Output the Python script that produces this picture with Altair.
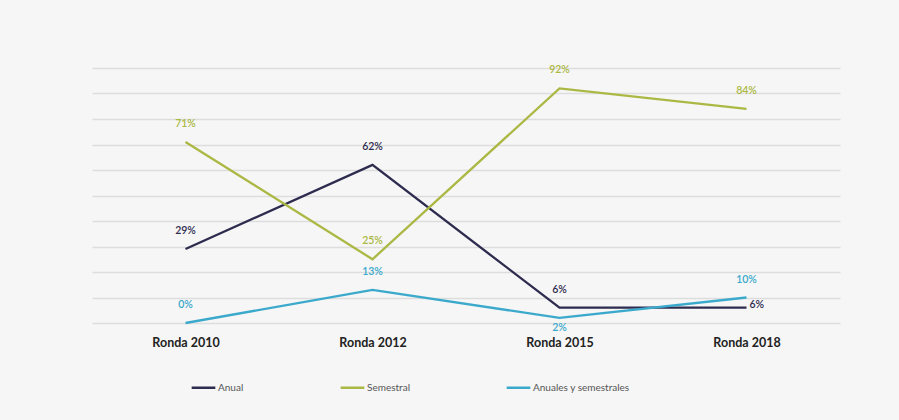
import altair as alt
import pandas as pd

rondas = ["Ronda 2010", "Ronda 2012", "Ronda 2015", "Ronda 2018"]
series = ["Anual", "Semestral", "Anuales y semestrales"]
anual = [29, 62, 6, 6]
semestral = [71, 25, 92, 84]
ambos = [0, 13, 2, 10]
colors = ["#2d2b4e", "#abb843", "#3ba9cc"]
grid_values = [0, 10, 20, 30, 40, 50, 60, 70, 80, 90, 100]

rows = []
for s, vals in zip(series, [anual, semestral, ambos]):
    for r, v in zip(rondas, vals):
        rows.append({"ronda": r, "serie": s, "valor": v, "label": f"{v}%"})
df = pd.DataFrame(rows)

FONT = "Lato"

x = alt.X(
    "ronda:N", sort=rondas,
    scale=alt.Scale(type="point", padding=0.5),
    axis=alt.Axis(title=None, labelAngle=0, ticks=False, domain=False, grid=False,
                  labelFont=FONT, labelFontWeight="bold", labelFontSize=12.5,
                  labelColor="#222222", labelPadding=13),
)
y = alt.Y(
    "valor:Q",
    scale=alt.Scale(domain=[0, 100], nice=False, zero=True),
    axis=alt.Axis(title=None, labels=False, ticks=False, domain=False,
                  values=grid_values, gridColor="#dddddd", gridWidth=1.3),
)
color_scale = alt.Scale(domain=series, range=colors)

base = alt.Chart(df)

lines = base.mark_line(strokeWidth=2.3).encode(
    x=x, y=y,
    color=alt.Color(
        "serie:N", sort=series, scale=color_scale,
        legend=alt.Legend(
            title=None, orient="none", legendX=98, legendY=306, direction="horizontal",
            symbolType="stroke", symbolSize=560, symbolStrokeWidth=2.5,
            labelFont=FONT, labelFontSize=10, labelColor="#555555",
            columnPadding=91, labelOffset=1,
        ),
    ),
    detail="serie:N",
)

txt_enc = dict(
    x=x,
    y=y,
    text="label:N",
    color=alt.Color("serie:N", sort=series, scale=color_scale, legend=None),
)

above = base.transform_filter(
    "!(datum.serie == 'Anuales y semestrales' && datum.ronda == 'Ronda 2015') && "
    "!(datum.serie == 'Anual' && datum.ronda == 'Ronda 2018')"
).mark_text(font=FONT, fontSize=10.5, fontWeight=600, dy=-18).encode(**txt_enc)

below = base.transform_filter(
    "datum.serie == 'Anuales y semestrales' && datum.ronda == 'Ronda 2015'"
).mark_text(font=FONT, fontSize=10.5, fontWeight=600, dy=10).encode(**txt_enc)

right = base.transform_filter(
    "datum.serie == 'Anual' && datum.ronda == 'Ronda 2018'"
).mark_text(font=FONT, fontSize=10.5, fontWeight=600, align="left", dx=3, dy=-3).encode(**txt_enc)

chart = (
    alt.layer(lines, above, below, right)
    .properties(width=748, height=255, padding={"left": 92, "top": 68, "right": 59, "bottom": 97},
                autosize=alt.AutoSizeParams(type="none"), background="#f6f6f6")
    .configure_view(stroke=None)
)

chart.save("out.html", embed_options={"renderer": "svg", "actions": False})
